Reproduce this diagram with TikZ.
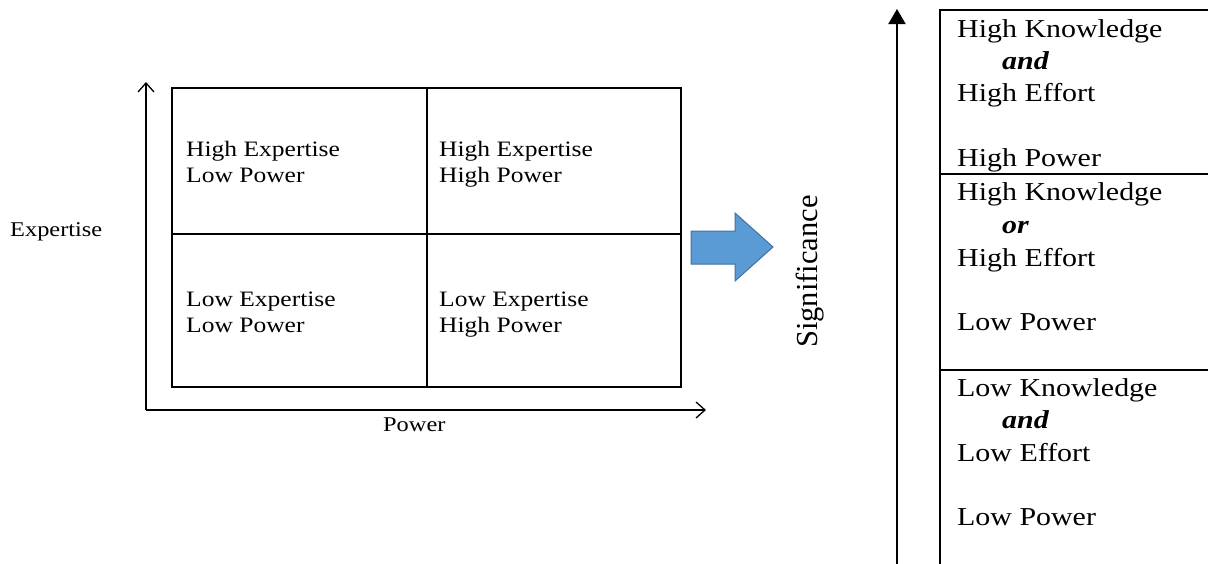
\documentclass[tikz,border=0pt]{standalone}
\usepackage{fontspec}
\setmainfont{Liberation Serif}[FakeStretch=1.16]
\newfontfamily\sigfont{Liberation Serif}
\usetikzlibrary{arrows.meta}
\definecolor{arrowblue}{HTML}{5B9BD5}
\definecolor{arrowedge}{HTML}{41719C}
\begin{document}
\begin{tikzpicture}[x=1pt,y=-1pt,
  celltext/.style={anchor=base west,inner sep=0pt,font=\fontsize{22}{26}\selectfont},
  axlabel/.style={anchor=base west,inner sep=0pt,font=\fontsize{21}{26}\selectfont},
  rt/.style={anchor=base west,inner sep=0pt,font=\fontsize{25.8}{32}\selectfont},
  conj/.style={anchor=base west,inner sep=0pt,font=\fontsize{25.8}{32}\selectfont\bfseries\itshape},
  gridline/.style={line width=1.4pt},
  axisline/.style={line width=1.3pt,-{Straight Barb[length=9pt,width=16pt,line width=1.3pt]}},
  boxline/.style={line width=2pt},
  sigarrow/.style={line width=2pt,-{Triangle[length=15pt,width=17pt]}}]
\useasboundingbox (0,0) rectangle (1208,563);
\fill[white] (0,0) rectangle (1208,563);
\clip (0,0) rectangle (1208,563);

% grid
\draw[gridline] (172,88) rectangle (681,387);
\draw[gridline] (427,88) -- (427,387);
\draw[gridline] (172,234) -- (681,234);

% axes
\coordinate (o) at (146,410);
\coordinate (ytop) at (146,82);
\coordinate (xend) at (706,410);
\draw[axisline] (o) -- (ytop);
\draw[axisline] (o) -- (xend);
\node[axlabel] (ylab) at (10,236.5) {Expertise};
\node[axlabel] (xlab) at (383,431) {Power};

% cell texts
\node[celltext] (a1) at (186,156) {High Expertise};
\node[celltext] (a2) at (186,182) {Low Power};
\node[celltext] (b1) at (439,156) {High Expertise};
\node[celltext] (b2) at (439,182) {High Power};
\node[celltext] (c1) at (186,306) {Low Expertise};
\node[celltext] (c2) at (186,332) {Low Power};
\node[celltext] (d1) at (439,306) {Low Expertise};
\node[celltext] (d2) at (439,332) {High Power};

% block arrow
\draw[fill=arrowblue,draw=arrowedge,line width=1pt,line join=miter]
  (691,231) -- (735,231) -- (735,213) -- (773,247) -- (735,281) -- (735,264) -- (691,264) -- cycle;

% significance
\node[inner sep=0pt,rotate=90,anchor=base west,font=\sigfont\fontsize{30.5}{34}\selectfont] (sig) at (817,348) {Significance};
\coordinate (sb) at (897,580);
\coordinate (st) at (897,9);
\draw[sigarrow] (sb) -- (st);

% right box
\draw[boxline] (1230,10) -- (940,10) -- (940,580);
\draw[gridline] (940,174) -- (1230,174);
\draw[gridline] (940,370) -- (1230,370);

\node[rt] (r11) at (957,37) {High Knowledge};
\node[conj] (r12) at (1002,69) {and};
\node[rt] (r13) at (957,101.5) {High Effort};
\node[rt] (r14) at (957,166) {High Power};

\node[rt] (r21) at (957,200) {High Knowledge};
\node[conj] (r22) at (1002,233) {or};
\node[rt] (r23) at (957,266.5) {High Effort};
\node[rt] (r24) at (957,330) {Low Power};

\node[rt] (r31) at (957,396) {Low Knowledge};
\node[conj] (r32) at (1002,428.5) {and};
\node[rt] (r33) at (957,461) {Low Effort};
\node[rt] (r34) at (957,525) {Low Power};
\end{tikzpicture}
\end{document}
